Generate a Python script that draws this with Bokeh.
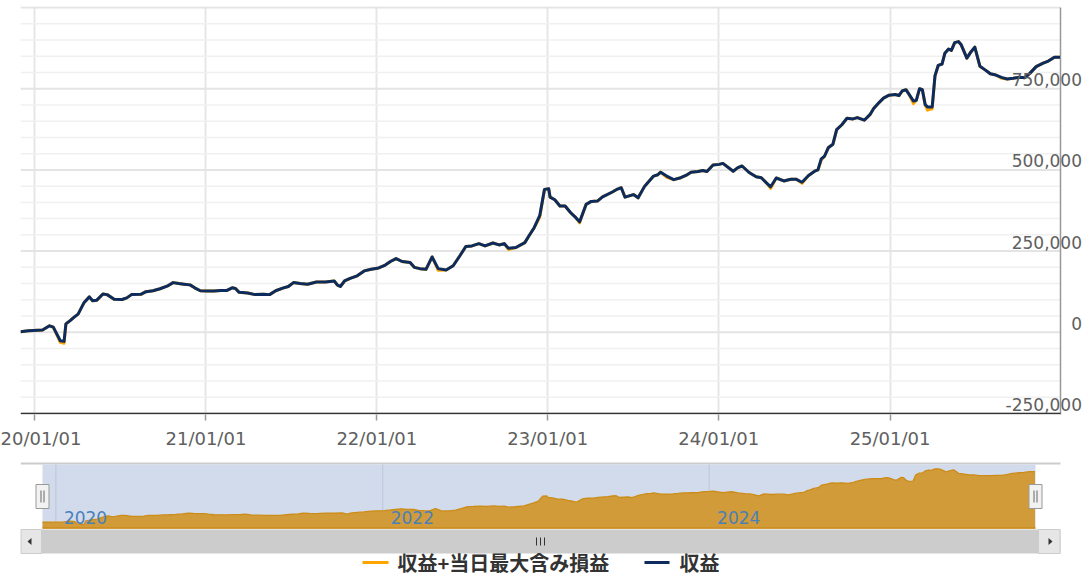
import pandas as pd
from bokeh.plotting import figure
from bokeh.models import Range1d, FixedTicker, DatetimeTickFormatter, LabelSet, ColumnDataSource
from bokeh.layouts import column
from bokeh.embed import file_html
from bokeh.resources import INLINE
from bokeh.core.properties import value

# ---------------- data ----------------
dates = [
    "2019-12-02", "2019-12-19", "2020-01-18", "2020-02-02", "2020-02-10", "2020-02-25", "2020-03-04", "2020-03-08",
    "2020-03-17", "2020-03-25", "2020-04-03", "2020-04-16", "2020-04-27", "2020-05-04", "2020-05-13", "2020-05-26",
    "2020-06-04", "2020-06-19", "2020-07-06", "2020-07-16", "2020-07-26", "2020-08-15", "2020-08-26", "2020-09-10",
    "2020-09-25", "2020-10-10", "2020-10-23", "2020-11-04", "2020-11-15", "2020-11-28", "2020-12-08", "2020-12-20",
    "2021-01-03", "2021-01-18", "2021-02-02", "2021-02-15", "2021-02-26", "2021-03-05", "2021-03-13", "2021-03-31",
    "2021-04-16", "2021-05-04", "2021-05-17", "2021-05-30", "2021-06-14", "2021-06-26", "2021-07-07", "2021-07-21",
    "2021-08-06", "2021-08-25", "2021-09-13", "2021-10-02", "2021-10-09", "2021-10-15", "2021-10-24", "2021-11-05",
    "2021-11-20", "2021-12-05", "2021-12-20", "2022-01-05", "2022-01-19", "2022-01-30", "2022-02-11", "2022-02-24",
    "2022-03-13", "2022-03-22", "2022-04-03", "2022-04-16", "2022-04-29", "2022-05-12", "2022-05-29", "2022-06-13",
    "2022-06-27", "2022-07-10", "2022-07-23", "2022-08-07", "2022-08-20", "2022-09-06", "2022-09-19", "2022-09-30",
    "2022-10-09", "2022-10-25", "2022-11-13", "2022-11-22", "2022-12-03", "2022-12-15", "2022-12-25", "2023-01-03",
    "2023-01-06", "2023-01-16", "2023-01-27", "2023-02-07", "2023-02-19", "2023-03-02", "2023-03-10", "2023-03-24",
    "2023-04-04", "2023-04-17", "2023-04-28", "2023-05-19", "2023-05-30", "2023-06-07", "2023-06-15", "2023-07-03",
    "2023-07-13", "2023-07-27", "2023-08-15", "2023-08-24", "2023-08-30", "2023-09-12", "2023-09-27", "2023-10-12",
    "2023-10-23", "2023-11-03", "2023-11-18", "2023-11-28", "2023-12-07", "2023-12-20", "2024-01-02", "2024-01-10",
    "2024-02-01", "2024-02-11", "2024-02-20", "2024-03-06", "2024-03-21", "2024-04-01", "2024-04-12", "2024-04-21",
    "2024-05-03", "2024-05-19", "2024-06-03", "2024-06-15", "2024-06-27", "2024-07-11", "2024-07-24", "2024-07-31",
    "2024-08-07", "2024-08-14", "2024-08-22", "2024-09-01", "2024-09-09", "2024-09-20", "2024-10-01", "2024-10-14",
    "2024-10-23", "2024-11-07", "2024-11-19", "2024-11-27", "2024-12-09", "2024-12-18", "2024-12-30", "2025-01-12",
    "2025-01-20", "2025-01-27", "2025-02-04", "2025-02-11", "2025-02-20", "2025-02-26", "2025-03-05", "2025-03-11",
    "2025-03-17", "2025-03-22", "2025-04-01", "2025-04-07", "2025-04-14", "2025-04-22", "2025-04-28", "2025-05-06",
    "2025-05-12", "2025-05-19", "2025-05-27", "2025-06-02", "2025-06-14", "2025-06-23", "2025-07-01", "2025-07-12",
    "2025-07-23", "2025-08-03", "2025-08-15", "2025-08-27", "2025-09-08", "2025-09-21", "2025-10-04", "2025-10-16",
    "2025-10-27", "2025-11-09", "2025-11-24", "2025-12-05", "2025-12-18", "2025-12-30",
]

# 収益 (profit)
profit = [
    2000, 5000, 7000, 20000, 16000, -26000, -28000, 26000,
    36000, 46000, 56000, 92000, 109000, 97000, 99000, 118000,
    116000, 102000, 101000, 106000, 116000, 117000, 125000, 128000,
    134000, 142000, 153000, 150000, 148000, 146000, 137000, 128000,
    127000, 127000, 129000, 129000, 137000, 135000, 123000, 121000,
    116000, 117000, 116000, 128000, 136000, 141000, 153000, 150000,
    148000, 155000, 155000, 158000, 145000, 141000, 158000, 166000,
    174000, 189000, 194000, 198000, 207000, 218000, 227000, 218000,
    215000, 200000, 196000, 194000, 232000, 196000, 192000, 205000,
    235000, 264000, 266000, 273000, 266000, 275000, 269000, 273000,
    259000, 261000, 276000, 297000, 322000, 360000, 440000, 442000,
    416000, 408000, 389000, 389000, 368000, 353000, 340000, 394000,
    403000, 404000, 417000, 432000, 441000, 445000, 416000, 424000,
    414000, 450000, 481000, 485000, 493000, 481000, 470000, 476000,
    483000, 493000, 495000, 498000, 495000, 515000, 517000, 520000,
    496000, 507000, 512000, 492000, 479000, 476000, 460000, 448000,
    475000, 466000, 471000, 471000, 462000, 483000, 496000, 500000,
    534000, 542000, 568000, 579000, 624000, 639000, 659000, 657000,
    661000, 653000, 670000, 689000, 708000, 721000, 730000, 732000,
    729000, 743000, 747000, 732000, 712000, 714000, 750000, 747000,
    701000, 694000, 694000, 790000, 822000, 826000, 859000, 872000,
    868000, 892000, 895000, 885000, 844000, 864000, 878000, 819000,
    808000, 796000, 792000, 785000, 780000, 782000, 785000, 784000,
    798000, 818000, 829000, 835000, 847000, 847000,
]

# 当日最大含み損 (extra intraday loss, only where visible below the profit line)
intraday_loss = {
    "2020-02-25": -5000, "2020-03-04": -6000, "2022-05-12": -5000, "2022-10-09": -4000,
    "2022-12-15": -5000, "2023-03-10": -3000, "2023-09-12": -4000, "2024-04-21": -5000,
    "2024-06-27": -3000, "2024-08-07": -4000, "2025-02-20": -8000, "2025-03-22": -10000,
    "2025-04-01": -6000, "2025-08-27": -3000,
}
profit_plus_loss = [v + intraday_loss.get(d, 0) for d, v in zip(dates, profit)]

series_names = ["収益+当日最大含み損益", "収益"]
x_tick_dates = ["2020-01-01", "2021-01-01", "2022-01-01", "2023-01-01", "2024-01-01", "2025-01-01"]
y_major = [-250000, 0, 250000, 500000, 750000, 1000000]
y_minor = [v for v in range(-250000, 1000001, 50000) if v not in y_major]
y_tick_values = [-250000, 0, 250000, 500000, 750000]
y_tick_labels = ["-250,000", "0", "250,000", "500,000", "750,000"]
nav_year_dates = ["2020-01-01", "2022-01-01", "2024-01-01"]
nav_year_labels = ["2020", "2022", "2024"]
x_start, x_end = "2019-12-02", "2025-12-31"
y_min, y_max = -250000, 1000000

# ---------------- styling / layout ----------------
ORANGE = "#FFA500"
NAVY = "#0c2b5e"
FONT = "DejaVu Sans"
CJK = "Noto Sans CJK JP"
W = 1091
H1 = 455
PL, PR, PT, PB = 20, 1060, 7, 413     # main plot box (page px)


def ms(s):
    return pd.Timestamp(s).value / 1e6


dt = pd.to_datetime(dates)
x0, x1 = ms(x_start), ms(x_end)

# main chart: frame spans to the right edge so the right-hand labels are not clipped
m_mspp = (x1 - x0) / (PR - PL)
m_vpp = (y_max - y_min) / (PB - PT)
p = figure(width=W, height=H1, x_axis_type="datetime", y_axis_location=None,
           x_range=Range1d(x0, x1 + (W - PR) * m_mspp),
           y_range=Range1d(y_min - 1 * m_vpp, y_max + 1 * m_vpp),
           output_backend="svg", toolbar_location=None,
           min_border_left=PL, min_border_right=0, min_border_top=PT - 1, min_border_bottom=H1 - PB - 1)
p.outline_line_color = None

p.xaxis.ticker = FixedTicker(ticks=[ms(d) for d in x_tick_dates])
fmt = "%y/%m/%d"
p.xaxis.formatter = DatetimeTickFormatter(microseconds=fmt, milliseconds=fmt, seconds=fmt, minsec=fmt,
                                          minutes=fmt, hourmin=fmt, hours=fmt, days=fmt, months=fmt, years=fmt)
p.xaxis.axis_line_color = None
p.xaxis.major_tick_line_color = "#999999"
p.xaxis.major_tick_line_width = 1.5
p.xaxis.major_tick_out = 6
p.xaxis.major_tick_in = 0
p.xaxis.minor_tick_line_color = None
p.xaxis.major_label_standoff = 7
p.xaxis.major_label_text_font = FONT
p.xaxis.major_label_text_font_size = "18px"
p.xaxis.major_label_text_color = "#606060"

p.xgrid.grid_line_color = "#e6e6e6"
p.xgrid.grid_line_width = 2
p.ygrid.visible = False

# horizontal grid lines (only across the plot box)
p.segment(x0=[x0] * len(y_minor), y0=y_minor, x1=[x1] * len(y_minor), y1=y_minor,
          line_color="#f0f0f0", line_width=1.5)
p.segment(x0=[x0] * len(y_major), y0=y_major, x1=[x1] * len(y_major), y1=y_major,
          line_color="#e4e4e4", line_width=2)
# right axis line and bottom axis line
p.segment(x0=[x1], y0=[y_min - 1 * m_vpp], x1=[x1], y1=[y_max], line_color="#999999", line_width=1.5)
p.segment(x0=[x0], y0=[y_min], x1=[x1], y1=[y_min], line_color="#333333", line_width=1.5)

p.line(dt, profit_plus_loss, color=ORANGE, line_width=3, line_join="round")
p.line(dt, profit, color=NAVY, line_width=3, line_join="round")

ylab_src = ColumnDataSource(dict(x=[x1] * len(y_tick_values), y=y_tick_values, text=y_tick_labels))
p.add_layout(LabelSet(x="x", y="y", text="text", source=ylab_src, x_offset=21.5, y_offset=9,
                      text_align="right", text_baseline="middle", text_font=value(FONT),
                      text_font_size="17px", text_color="#606060"))

# ---------------- navigator / scrollbar / legend ----------------
# The column layout aligns this figure's frame with the main one, so its frame
# also starts at page x = PL and runs to the right edge.
H2 = 577 - H1
FIG_X, FIG_Y = PL, H1                 # page position of this figure's frame
NL, NR, NT, NB = 42, 1035, 464, 528   # navigator plot box (page px)
nav_ymin, nav_ymax = -102000, 967000

mspp = (x1 - x0) / (NR - NL)
vpp = (nav_ymax - nav_ymin) / (NB - NT)
xs = x0 - (NL - FIG_X) * mspp
xe = xs + (W - FIG_X) * mspp
ye = nav_ymax + (NT - FIG_Y) * vpp
ys = ye - H2 * vpp


def PX(px):
    return xs + (px - FIG_X) * mspp


def PY(py):
    return ye - (py - FIG_Y) * vpp


n = figure(width=W, height=H2, x_range=Range1d(xs, xe), y_range=Range1d(ys, ye),
           x_axis_location=None, y_axis_location=None, output_backend="svg", toolbar_location=None,
           min_border=0, min_border_left=PL, min_border_right=0, min_border_top=0, min_border_bottom=0)
n.outline_line_color = None
n.grid.visible = False

# top rule of navigator
n.segment(x0=[PX(20)], y0=[PY(463)], x1=[PX(1060)], y1=[PY(463)], line_color="#cccccc", line_width=2)
# mask (selected range = everything)
n.quad(left=[PX(NL)], right=[PX(NR)], top=[PY(NT)], bottom=[PY(NB)], fill_color="#d2dbec", line_color=None)
# navigator grid lines
nav_x = [ms(d) for d in nav_year_dates]
n.segment(x0=nav_x, y0=[PY(NT)] * len(nav_x), x1=nav_x, y1=[PY(NB)] * len(nav_x),
          line_color="#bcc6d8", line_width=1)
# navigator area series
nav_dt = [ms(d) for d in dates]
n.varea(x=nav_dt, y1=[nav_ymin] * len(nav_dt), y2=profit_plus_loss, fill_color="#d19b3a")
n.line(nav_dt, profit_plus_loss, line_color="#cc8d18", line_width=1.3)
n.segment(x0=[PX(NL)], y0=[PY(NB - 0.5)], x1=[PX(NR)], y1=[PY(NB - 0.5)], line_color="#cc8d18", line_width=1.5)
# year labels
n.text(x=nav_x, y=[PY(517)] * len(nav_x), text=nav_year_labels, x_offset=8,
       text_align="left", text_baseline="middle", text_font=value(FONT),
       text_font_size="17px", text_color="#4a80b8")
# handles
for c in (NL, NR):
    n.quad(left=[PX(c - 6.5)], right=[PX(c + 6.5)], top=[PY(484)], bottom=[PY(508)],
           fill_color="#f2f2f2", line_color="#999999", line_width=1)
    n.segment(x0=[PX(c - 1.5), PX(c + 1.5)], y0=[PY(490), PY(490)],
              x1=[PX(c - 1.5), PX(c + 1.5)], y1=[PY(502), PY(502)], line_color="#666666", line_width=1)
# scrollbar
n.quad(left=[PX(20)], right=[PX(1060)], top=[PY(529)], bottom=[PY(553)], fill_color="#cccccc", line_color=None)
n.quad(left=[PX(20.5), PX(1038)], right=[PX(41), PX(1059.5)], top=[PY(529)] * 2, bottom=[PY(553)] * 2,
       fill_color="#e6e6e6", line_color="#cccccc", line_width=1)
n.patches(xs=[[PX(27), PX(31), PX(31)], [PX(1052), PX(1048), PX(1048)]],
          ys=[[PY(541), PY(537.5), PY(544.5)], [PY(541), PY(537.5), PY(544.5)]],
          fill_color="#333333", line_color=None)
n.segment(x0=[PX(536), PX(540), PX(544)], y0=[PY(537)] * 3, x1=[PX(536), PX(540), PX(544)], y1=[PY(545)] * 3,
          line_color="#333333", line_width=1)
# legend
n.segment(x0=[PX(362), PX(644)], y0=[PY(562)] * 2, x1=[PX(388), PX(669)], y1=[PY(562)] * 2,
          line_color=[ORANGE, NAVY], line_width=3)
n.text(x=[PX(397), PX(679)], y=[PY(562)] * 2, text=series_names, text_align="left", text_baseline="middle",
       text_font=value(CJK), text_font_size="20px", text_font_style="bold", text_color="#333333")

layout = column(p, n)
open("out.html", "w").write(file_html(layout, INLINE))
